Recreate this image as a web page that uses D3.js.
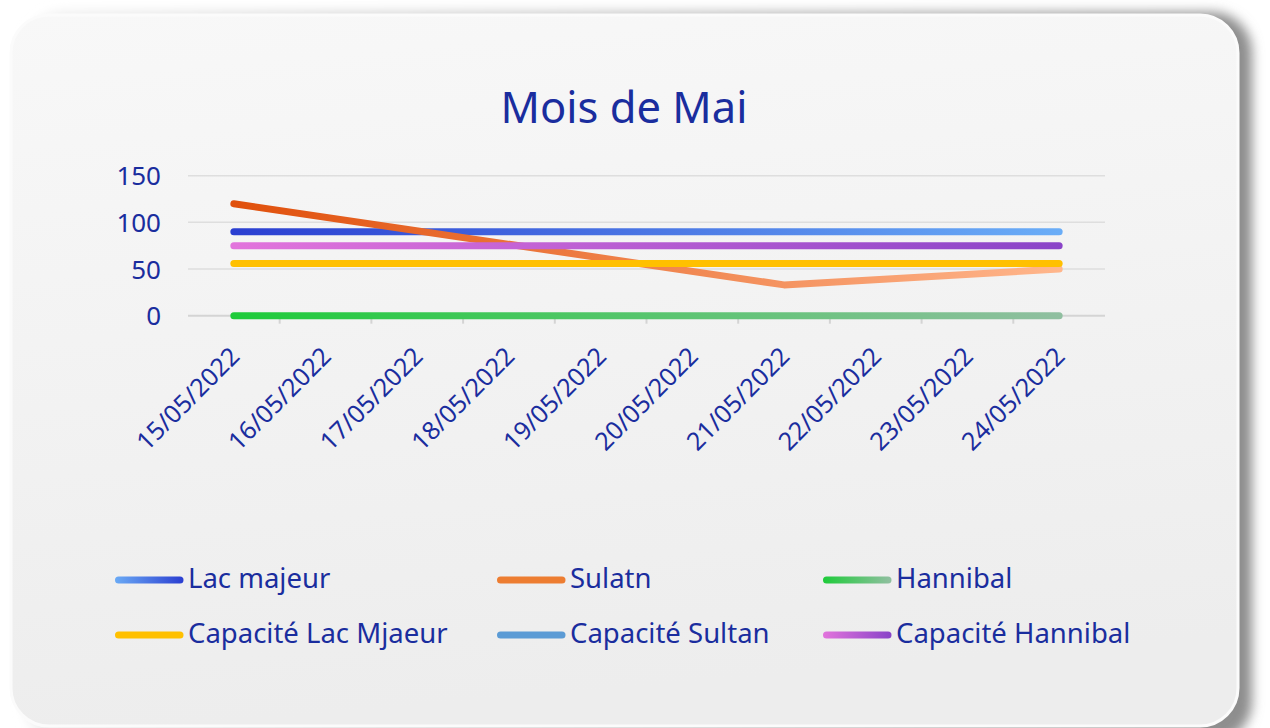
<!DOCTYPE html>
<html>
<head>
<meta charset="utf-8">
<script src="https://cdn.jsdelivr.net/npm/d3@7"></script>
<style>
html,body{margin:0;padding:0;background:#ffffff;}
svg{display:block;}
</style>
</head>
<body>
<svg id="chart" width="1270" height="728"></svg>
<script>
const categories = ["15/05/2022","16/05/2022","17/05/2022","18/05/2022","19/05/2022","20/05/2022","21/05/2022","22/05/2022","23/05/2022","24/05/2022"];
const lacMajeur = [90,90,90,90,90,90,90,90,90,90];
const sulatn = [120,null,null,null,null,null,33,null,null,50];
const hannibal = [0,0,0,0,0,0,0,0,0,0];
const capaciteLacMjaeur = [56,56,56,56,56,56,56,56,56,56];
const capaciteSultan = [null,null,null,null,null,null,null,null,null,null];
const capaciteHannibal = [75,75,75,75,75,75,75,75,75,75];
const seriesNames = ["Lac majeur","Sulatn","Hannibal","Capacité Lac Mjaeur","Capacité Sultan","Capacité Hannibal"];
const yTicks = [0,50,100,150];
const titleText = "Mois de Mai";

const seriesData = [lacMajeur, sulatn, hannibal, capaciteLacMjaeur, capaciteSultan, capaciteHannibal];
// line gradient colours [left, right]; legend colours [left,right]
const lineColors = [["#2b3fd1","#6aadf7"],["#e0500c","#ffb68c"],["#1ecb3a","#90bfa0"],["#ffc000","#ffc000"],["#5b9bd5","#5b9bd5"],["#e274dc","#8a44c8"]];
const legendColors = [["#6aaaf5","#2b3fd1"],["#ed7d31","#ed7d31"],["#1ecb3a","#90bfa0"],["#ffc000","#ffc000"],["#5b9bd5","#5b9bd5"],["#e274dc","#8a44c8"]];

const svg = d3.select("#chart");
const defs = svg.append("defs");
const textColor = "#1a2d9e";

// card background
const cardGrad = defs.append("linearGradient").attr("id","cardGrad").attr("x1",0).attr("y1",0).attr("x2",0.15).attr("y2",1);
cardGrad.append("stop").attr("offset",0).attr("stop-color","#f8f8f8");
cardGrad.append("stop").attr("offset",1).attr("stop-color","#ededed");
const shGrad = defs.append("linearGradient").attr("id","shGrad").attr("x1",0).attr("y1",0).attr("x2",1).attr("y2",0);
shGrad.append("stop").attr("offset",0).attr("stop-color","#f0f0f0");
shGrad.append("stop").attr("offset",1).attr("stop-color","#8c8c8c");
const blur = defs.append("filter").attr("id","blur").attr("x","-5%").attr("y","-5%").attr("width","110%").attr("height","110%");
blur.append("feGaussianBlur").attr("stdDeviation",6);

svg.append("rect").attr("x",24).attr("y",12).attr("width",1228).attr("height",730).attr("rx",40)
  .attr("fill","url(#shGrad)").attr("filter","url(#blur)");
svg.append("rect").attr("x",11).attr("y",15).attr("width",1227).attr("height",711).attr("rx",38)
  .attr("fill","url(#cardGrad)").attr("stroke","#fbfbfb").attr("stroke-width",3);

// title
svg.append("text").attr("x",624).attr("y",123).attr("text-anchor","middle")
  .attr("font-family","'Noto Sans', sans-serif").attr("font-size",43.5).attr("fill",textColor)
  .text(titleText);

// scales
const x = d3.scaleBand().domain(categories).range([188,1105]);
const y = d3.scaleLinear().domain([0,150]).range([315.7,175.7]);
const font = "'Noto Sans', sans-serif";

// gridlines
const gGrid = svg.append("g");
gGrid.selectAll("line").data(yTicks.filter(d=>d>0)).join("line")
  .attr("x1",188).attr("x2",1105).attr("y1",d=>y(d)).attr("y2",d=>y(d))
  .attr("stroke","#dedede").attr("stroke-width",1.5);

// y axis labels
const yAxis = d3.axisLeft(y).tickValues(yTicks).tickSize(0).tickPadding(0);
const gy = svg.append("g").attr("transform","translate(161,0)").call(yAxis);
gy.select(".domain").remove();
gy.selectAll("text").attr("font-family",font).attr("font-size",26).attr("fill",textColor).attr("dy","0.35em");

// x axis
const gx = svg.append("g").attr("transform",`translate(0,${y(0)})`);
gx.append("line").attr("x1",188).attr("x2",1105).attr("stroke","#d4d4d4").attr("stroke-width",2);
const boundaries = categories.slice(1).map(c=>x(c));
gx.selectAll("line.tick").data(boundaries).join("line").attr("class","tick")
  .attr("x1",d=>d).attr("x2",d=>d).attr("y1",0).attr("y2",8).attr("stroke","#d4d4d4").attr("stroke-width",2);
gx.selectAll("text").data(categories).join("text")
  .attr("transform",d=>`translate(${x(d)+x.bandwidth()/2+1},${36}) rotate(-45)`)
  .attr("text-anchor","end").attr("dy","0.35em")
  .attr("font-family",font).attr("font-size",25).attr("fill",textColor)
  .text(d=>d);

// lines
const cx = d => x(d)+x.bandwidth()/2;
const xStart = cx(categories[0]), xEnd = cx(categories[categories.length-1]);
seriesData.forEach((vals,i)=>{
  const id = "lg"+i;
  const g = defs.append("linearGradient").attr("id",id).attr("gradientUnits","userSpaceOnUse")
    .attr("x1",xStart).attr("x2",xEnd).attr("y1",0).attr("y2",0);
  g.append("stop").attr("offset",0).attr("stop-color",lineColors[i][0]);
  g.append("stop").attr("offset",1).attr("stop-color",lineColors[i][1]);
  const pts = categories.map((c,j)=>({c, v: vals[j]})).filter(p=>p.v!=null);
  if(pts.length<1) return;
  const line = d3.line().x(p=>cx(p.c)).y(p=>y(p.v));
  svg.append("path").datum(pts).attr("d",line).attr("fill","none")
    .attr("stroke",`url(#${id})`).attr("stroke-width",7)
    .attr("stroke-linecap","round").attr("stroke-linejoin","round");
});

// legend
const legCols = [115,497,823];
const legRows = [580,635];
seriesNames.forEach((name,i)=>{
  const col = i%3, row = Math.floor(i/3);
  const x0 = legCols[col], yy = legRows[row];
  const id = "leg"+i;
  const g = defs.append("linearGradient").attr("id",id).attr("gradientUnits","userSpaceOnUse")
    .attr("x1",x0).attr("x2",x0+68).attr("y1",0).attr("y2",0);
  g.append("stop").attr("offset",0).attr("stop-color",legendColors[i][0]);
  g.append("stop").attr("offset",1).attr("stop-color",legendColors[i][1]);
  svg.append("line").attr("x1",x0+3.5).attr("x2",x0+65).attr("y1",yy).attr("y2",yy)
    .attr("stroke",`url(#${id})`).attr("stroke-width",7).attr("stroke-linecap","round");
  svg.append("text").attr("x",x0+73).attr("y",yy+8).attr("font-family",font).attr("font-size",27.5)
    .attr("fill",textColor).text(name);
});
</script>
</body>
</html>
